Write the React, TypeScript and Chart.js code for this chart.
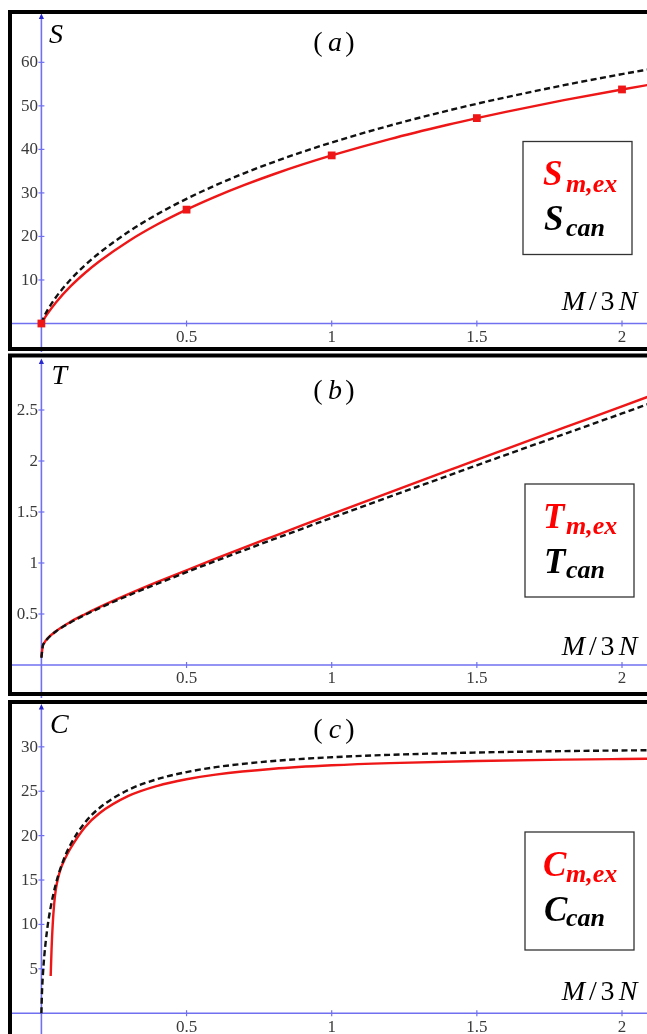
import React, { useEffect, useRef } from "react";
import { Chart, registerables } from "chart.js";

Chart.register(...registerables);

// ---------------- data ----------------
const xTickValues = [0.5, 1, 1.5, 2];
const xTickLabels = ["0.5", "1", "1.5", "2"];

// (a) entropy S vs M/3N
const qEntropy = [0, 0.01, 0.02, 0.05, 0.1, 0.15, 0.2, 0.3, 0.4, 0.5, 0.6, 0.7, 0.8, 0.9, 1, 1.2, 1.4, 1.5, 1.6, 1.8, 2, 2.1];
const entropyExact = [0, 1.13, 2.15, 4.83, 8.51, 11.6, 14.3, 18.91, 22.79, 26.16, 29.15, 31.84, 34.29, 36.54, 38.62, 42.37, 45.67, 47.19, 48.63, 51.32, 53.77, 54.92];
const entropyCan = [0, 1.68, 2.95, 6.03, 10.05, 13.36, 16.22, 21.07, 25.13, 28.64, 31.76, 34.55, 37.1, 39.43, 41.59, 45.47, 48.9, 50.48, 51.97, 54.75, 57.29, 58.48];
const qEntropyMarks = [0, 0.5, 1, 1.5, 2];
const entropyMarks = [0, 26.16, 38.62, 47.19, 53.77];
const entropyTickValues = [10, 20, 30, 40, 50, 60];
const entropyTickLabels = ["10", "20", "30", "40", "50", "60"];

// (b) temperature T vs M/3N
const qTempCan = [0, 0.005, 0.01, 0.02, 0.05, 0.1, 0.15, 0.2, 0.3, 0.4, 0.5, 0.6, 0.7, 0.8, 0.9, 1, 1.2, 1.4, 1.5, 1.6, 1.8, 2, 2.1];
const tempCan = [0.07, 0.189, 0.217, 0.254, 0.329, 0.417, 0.491, 0.558, 0.682, 0.798, 0.91, 1.02, 1.127, 1.233, 1.338, 1.443, 1.65, 1.855, 1.958, 2.06, 2.263, 2.466, 2.568];
const qTempExact = [0, 0.005, 0.01, 0.02, 0.05, 0.1, 0.15, 0.2, 0.3, 0.4, 0.5, 0.6, 0.7, 0.8, 0.9, 1, 1.2, 1.4, 1.5, 1.6, 1.8, 2, 2.1];
const tempExact = [0.08, 0.19, 0.218, 0.257, 0.332, 0.423, 0.498, 0.567, 0.694, 0.814, 0.929, 1.042, 1.153, 1.262, 1.371, 1.479, 1.693, 1.905, 2.011, 2.116, 2.326, 2.536, 2.641];
const tempTickValues = [0.5, 1, 1.5, 2, 2.5];
const tempTickLabels = ["0.5", "1", "1.5", "2", "2.5"];

// (c) heat capacity C vs M/3N
const qHeatCan = [0, 0.002, 0.005, 0.01, 0.02, 0.03, 0.05, 0.075, 0.1, 0.15, 0.2, 0.3, 0.4, 0.5, 0.6, 0.8, 1, 1.2, 1.5, 1.8, 2, 2.1];
const heatCan = [0, 2.32, 4.24, 6.45, 9.46, 11.59, 14.6, 17.15, 18.97, 21.47, 23.11, 25.16, 26.37, 27.16, 27.71, 28.41, 28.83, 29.1, 29.36, 29.52, 29.59, 29.62];
const qHeatExact = [0.032, 0.035, 0.039, 0.044, 0.05, 0.058, 0.068, 0.08, 0.1, 0.15, 0.2, 0.3, 0.4, 0.5, 0.6, 0.8, 1, 1.2, 1.5, 1.8, 2, 2.1];
const heatExact = [4.2, 7.2, 10.0, 12.3, 14.0, 15.3, 16.4, 17.3, 18.55, 20.95, 22.52, 24.47, 25.61, 26.35, 26.87, 27.53, 27.92, 28.17, 28.41, 28.56, 28.63, 28.66];
const heatTickValues = [5, 10, 15, 20, 25, 30];
const heatTickLabels = ["5", "10", "15", "20", "25", "30"];

// ---------------- styling ----------------
const W = 647;
const AXIS_BLUE = "rgb(112,112,240)";
const ARROW_BLUE = "rgb(40,40,210)";
const RED_LINE = "rgb(238,22,22)";
const RED_TEXT = "#ff0000";
const BLACK = "#111111";
const TICK_TEXT = "#3a3a3a";
const SERIF = "'Liberation Serif', 'DejaVu Serif', serif";

type Panel = {
  top: number;
  height: number;
  xMin: number;
  xMax: number;
  yMin: number;
  yMax: number;
  borderTop: number;
  borderBottom: number | null;
  arrowY: number;
  titleLetter: string;
  titleBaseline: number;
  name: string;
  nameX: number;
  nameBaseline: number;
  m3nBaseline: number;
  box: { x: number; y: number; w: number; h: number };
  yTicks: number[];
  yLabels: string[];
  datasets: any[];
};

const pts = (xs: number[], ys: number[]) => xs.map((x, i) => ({ x, y: ys[i] }));

const canLine = (xs: number[], ys: number[]) => ({
  data: pts(xs, ys),
  borderColor: BLACK,
  borderWidth: 2.4,
  borderDash: [6, 3.5],
  pointRadius: 0,
  cubicInterpolationMode: "monotone",
  fill: false,
});
const exLine = (xs: number[], ys: number[]) => ({
  data: pts(xs, ys),
  borderColor: RED_LINE,
  borderWidth: 2.4,
  pointRadius: 0,
  cubicInterpolationMode: "monotone",
  fill: false,
});

const panels: Panel[] = [
  {
    top: 0,
    height: 352,
    xMin: -0.1426,
    xMax: 2.0861,
    yMin: -6.547,
    yMax: 74.32,
    borderTop: 12,
    borderBottom: 349,
    arrowY: 14.5,
    titleLetter: "a",
    titleBaseline: 51,
    name: "S",
    nameX: 49,
    nameBaseline: 43,
    m3nBaseline: 310,
    box: { x: 523, y: 141.5, w: 109, h: 113 },
    yTicks: entropyTickValues,
    yLabels: entropyTickLabels,
    datasets: [
      {
        data: pts(qEntropyMarks, entropyMarks),
        showLine: false,
        pointStyle: "rect",
        pointRadius: 5.5,
        pointBackgroundColor: RED_LINE,
        pointBorderWidth: 0,
      },
      canLine(qEntropy, entropyCan),
      exLine(qEntropy, entropyExact),
    ],
  },
  {
    top: 352,
    height: 346,
    xMin: -0.1426,
    xMax: 2.0861,
    yMin: -0.3235,
    yMax: 3.0686,
    borderTop: 3.5,
    borderBottom: 342,
    arrowY: 7.5,
    titleLetter: "b",
    titleBaseline: 46.6,
    name: "T",
    nameX: 51.6,
    nameBaseline: 32.3,
    m3nBaseline: 303,
    box: { x: 525, y: 132, w: 109, h: 113 },
    yTicks: tempTickValues,
    yLabels: tempTickLabels,
    datasets: [canLine(qTempCan, tempCan), exLine(qTempExact, tempExact)],
  },
  {
    top: 698,
    height: 336,
    xMin: -0.1426,
    xMax: 2.0861,
    yMin: -2.342,
    yMax: 35.5,
    borderTop: 4,
    borderBottom: null,
    arrowY: 7,
    titleLetter: "c",
    titleBaseline: 40,
    name: "C",
    nameX: 50,
    nameBaseline: 35,
    m3nBaseline: 302,
    box: { x: 525, y: 134, w: 109, h: 118 },
    yTicks: heatTickValues,
    yLabels: heatTickLabels,
    datasets: [canLine(qHeatCan, heatCan), exLine(qHeatExact, heatExact)],
  },
];

function makePlugin(p: Panel) {
  return {
    id: "panelDecor",
    beforeDatasetsDraw(chart: any) {
      const ctx: CanvasRenderingContext2D = chart.ctx;
      const xs = chart.scales.x;
      const ys = chart.scales.y;
      const x0 = xs.getPixelForValue(0);
      const y0 = ys.getPixelForValue(0);
      ctx.save();
      ctx.strokeStyle = AXIS_BLUE;
      ctx.lineWidth = 1.6;
      // x axis
      ctx.beginPath();
      ctx.moveTo(12, y0);
      ctx.lineTo(chart.width, y0);
      ctx.stroke();
      // y axis
      ctx.beginPath();
      ctx.moveTo(x0, p.arrowY + 3);
      ctx.lineTo(x0, p.height);
      ctx.stroke();
      // arrow head
      ctx.fillStyle = ARROW_BLUE;
      ctx.beginPath();
      ctx.moveTo(x0, p.arrowY - 1);
      ctx.lineTo(x0 - 2.6, p.arrowY + 4.5);
      ctx.lineTo(x0 + 2.6, p.arrowY + 4.5);
      ctx.closePath();
      ctx.fill();
      // ticks
      ctx.lineWidth = 1.2;
      ctx.font = `17px ${SERIF}`;
      ctx.fillStyle = TICK_TEXT;
      ctx.textBaseline = "middle";
      ctx.textAlign = "center";
      xTickValues.forEach((t, i) => {
        const px = xs.getPixelForValue(t);
        ctx.beginPath();
        ctx.moveTo(px, y0 - 3);
        ctx.lineTo(px, y0 + 3);
        ctx.stroke();
        ctx.fillText(xTickLabels[i], px, y0 + 14);
      });
      ctx.textAlign = "right";
      p.yTicks.forEach((t, i) => {
        const py = ys.getPixelForValue(t);
        ctx.beginPath();
        ctx.moveTo(x0 - 3, py);
        ctx.lineTo(x0 + 3, py);
        ctx.stroke();
        ctx.fillText(p.yLabels[i], x0 - 3.5, py + 0.5);
      });
      ctx.restore();
    },
    afterDatasetsDraw(chart: any) {
      const ctx: CanvasRenderingContext2D = chart.ctx;
      ctx.save();
      // panel frame
      ctx.strokeStyle = "#000";
      ctx.lineWidth = 4;
      const bottom = p.borderBottom === null ? p.height + 10 : p.borderBottom;
      ctx.beginPath();
      ctx.moveTo(W + 10, p.borderTop);
      ctx.lineTo(10, p.borderTop);
      ctx.lineTo(10, bottom);
      if (p.borderBottom !== null) ctx.lineTo(W + 10, bottom);
      ctx.stroke();

      ctx.fillStyle = "#000";
      ctx.textBaseline = "alphabetic";
      ctx.textAlign = "center";
      // title "(x)"
      ctx.font = `28px ${SERIF}`;
      ctx.fillText("(", 318, p.titleBaseline);
      ctx.fillText(")", 350, p.titleBaseline);
      ctx.font = `italic 28px ${SERIF}`;
      ctx.fillText(p.titleLetter, 335, p.titleBaseline);
      // axis name
      ctx.textAlign = "left";
      ctx.font = `italic 28px ${SERIF}`;
      ctx.fillText(p.name, p.nameX, p.nameBaseline);
      // M/3N
      ctx.textAlign = "center";
      ctx.font = `italic 28px ${SERIF}`;
      ctx.fillText("M", 573.5, p.m3nBaseline);
      ctx.fillText("N", 628, p.m3nBaseline);
      ctx.font = `28px ${SERIF}`;
      ctx.fillText("/", 593, p.m3nBaseline);
      ctx.fillText("3", 607.5, p.m3nBaseline);
      // legend box
      const b = p.box;
      ctx.strokeStyle = "#333";
      ctx.lineWidth = 1.3;
      ctx.strokeRect(b.x, b.y, b.w, b.h);
      ctx.textAlign = "left";
      ctx.fillStyle = RED_TEXT;
      ctx.font = `bold italic 35px ${SERIF}`;
      ctx.fillText(p.name, 543, b.y + 43.5);
      ctx.font = `bold italic 26px ${SERIF}`;
      ctx.fillText("m,ex", 566, b.y + 50);
      ctx.fillStyle = "#000";
      ctx.font = `bold italic 35px ${SERIF}`;
      ctx.fillText(p.name, 544, b.y + 88.5);
      ctx.font = `bold italic 26px ${SERIF}`;
      ctx.fillText("can", 566, b.y + 94);
      ctx.restore();
    },
  };
}

function PanelChart({ p }: { p: Panel }) {
  const ref = useRef<HTMLCanvasElement | null>(null);
  useEffect(() => {
    if (!ref.current) return;
    const chart = new Chart(ref.current, {
      type: "line",
      data: { datasets: p.datasets },
      options: {
        animation: false,
        responsive: false,
        devicePixelRatio: 1,
        events: [],
        layout: { padding: 0, autoPadding: false },
        scales: {
          x: { type: "linear", min: p.xMin, max: p.xMax, display: false },
          y: { type: "linear", min: p.yMin, max: p.yMax, display: false },
        },
        plugins: { legend: { display: false }, tooltip: { enabled: false } },
      } as any,
      plugins: [makePlugin(p) as any],
    });
    return () => chart.destroy();
  }, [p]);
  return (
    <canvas
      ref={ref}
      width={W}
      height={p.height}
      style={{ position: "absolute", left: 0, top: p.top, width: W, height: p.height, display: "block" }}
    />
  );
}

export default function App() {
  return (
    <div style={{ position: "absolute", left: 0, top: 0, width: W, height: 1034, background: "#fff", overflow: "hidden" }}>
      {panels.map((p, i) => (
        <PanelChart key={i} p={p} />
      ))}
    </div>
  );
}
